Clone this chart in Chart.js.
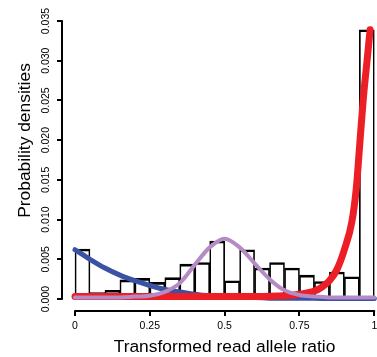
<!DOCTYPE html>
<html>
<head>
<meta charset="utf-8">
<script src="https://cdn.jsdelivr.net/npm/chart.js@4.4.1/dist/chart.umd.min.js"></script>
<style>
  html, body { margin: 0; padding: 0; background: #fff; overflow: hidden; }
  body { width: 377px; height: 357px; position: relative; }
  #c { position: absolute; left: 0; top: -30px; }
</style>
</head>
<body>
<canvas id="c" width="387" height="387"></canvas>
<script>
// histogram of transformed read allele ratio (bins of 0.05)
var binMids = [0.025, 0.075, 0.125, 0.175, 0.225, 0.275, 0.325, 0.375, 0.425, 0.475,
               0.525, 0.575, 0.625, 0.675, 0.725, 0.775, 0.825, 0.875, 0.925, 0.975];
var binHeights = [0.0063, 0.0008, 0.0011, 0.0024, 0.0026, 0.0021, 0.0027, 0.0044, 0.0046, 0.0073,
                  0.0023, 0.0062, 0.0039, 0.0046, 0.0039, 0.0030, 0.0022, 0.0034, 0.0028, 0.0339];

// fitted component densities
var curveX = [0, 0.05, 0.1, 0.15, 0.2, 0.25, 0.3, 0.35, 0.4, 0.45, 0.5,
              0.55, 0.6, 0.65, 0.7, 0.75, 0.8, 0.85, 0.9, 0.95, 1];
var blueY = [0.0062, 0.0050, 0.0039, 0.0030, 0.0023, 0.0017, 0.0012, 0.0009, 0.0006, 0.0004, 0.0003,
             0.0002, 0.0002, 0.0001, 0.0001, 0.0001, 0.0001, 0.00005, 0.00005, 0.00005, 0.00005];
var purpleY = [0.0002, 0.0002, 0.0002, 0.0002, 0.0003, 0.0004, 0.0009, 0.0020, 0.0043, 0.0065, 0.0076,
               0.0065, 0.0045, 0.0025, 0.0011, 0.0005, 0.0003, 0.0002, 0.0002, 0.0002, 0.0002];
var redX = [0, 0.1, 0.2, 0.3, 0.4, 0.5, 0.6, 0.7, 0.75, 0.8, 0.825, 0.85, 0.875, 0.9,
            0.925, 0.94, 0.95, 0.963, 0.975, 0.986];
var redY = [0.0003, 0.0003, 0.0003, 0.0003, 0.0003, 0.0003, 0.0003, 0.0004, 0.0006, 0.0010, 0.0015,
            0.0023, 0.0037, 0.0062, 0.0097, 0.0140, 0.0188, 0.0251, 0.0297, 0.0339];

var xTicks = [0, 0.25, 0.5, 0.75, 1];
var xTickLabels = ['0', '0.25', '0.5', '0.75', '1'];
var yTicks = [0, 0.005, 0.01, 0.015, 0.02, 0.025, 0.03, 0.035];
var yTickLabels = ['0.000', '0.005', '0.010', '0.015', '0.020', '0.025', '0.030', '0.035'];

var FONT = "'Liberation Sans', Arial, Helvetica, sans-serif";

function points(xs, ys) {
  return xs.map(function (x, i) { return { x: x, y: ys[i] }; });
}

function fixedTicks(values) {
  return function (scale) {
    scale.ticks = values.map(function (v) { return { value: v }; });
  };
}

function curve(xs, ys, color, width, order) {
  return {
    type: 'line',
    data: points(xs, ys),
    borderColor: color,
    borderWidth: width,
    borderCapStyle: 'round',
    borderJoinStyle: 'round',
    pointRadius: 0,
    pointHoverRadius: 0,
    fill: false,
    tension: 0.4,
    cubicInterpolationMode: 'monotone',
    clip: false,
    order: order
  };
}

// R style detached axis lines: from first to last tick only
var axisLines = {
  id: 'axisLines',
  afterDraw: function (chart) {
    var ctx = chart.ctx, xs = chart.scales.x, ys = chart.scales.y;
    var area = chart.chartArea;
    ctx.save();
    ctx.strokeStyle = '#000';
    ctx.lineWidth = 2;
    ctx.lineCap = 'round';
    ctx.beginPath();
    ctx.moveTo(xs.getPixelForValue(xTicks[0]), area.bottom);
    ctx.lineTo(xs.getPixelForValue(xTicks[xTicks.length - 1]), area.bottom);
    ctx.moveTo(area.left, ys.getPixelForValue(yTicks[0]));
    ctx.lineTo(area.left, ys.getPixelForValue(yTicks[yTicks.length - 1]));
    ctx.stroke();
    ctx.restore();
  }
};

var tickGrid = { drawOnChartArea: false, drawTicks: true, tickLength: 5, color: '#000', lineWidth: 2, offset: false };

new Chart(document.getElementById('c'), {
  type: 'bar',
  data: {
    datasets: [
      curve(curveX, purpleY, '#b48bc5', 4, 0),
      curve(redX, redY, '#ed1f26', 7, 1),
      curve(curveX, blueY, '#3b51a3', 5, 2),
      {
        type: 'bar',
        data: points(binMids, binHeights),
        backgroundColor: 'rgba(255,255,255,0)',
        borderColor: '#000',
        borderWidth: { top: 2, right: 1, bottom: 1, left: 1 },
        borderSkipped: false,
        barPercentage: 1,
        categoryPercentage: 1,
        grouped: false,
        order: 3
      }
    ]
  },
  options: {
    responsive: false,
    animation: false,
    devicePixelRatio: 1,
    layout: { padding: 0, autoPadding: false },
    plugins: { legend: { display: false }, tooltip: { enabled: false } },
    scales: {
      x: {
        type: 'linear',
        offset: false,
        min: -0.043435,
        max: 1.042432,
        afterBuildTicks: fixedTicks(xTicks),
        afterFit: function (s) { s.height = 46; s.paddingLeft = 0; s.paddingRight = 0; },
        grid: tickGrid,
        border: { display: false },
        ticks: {
          autoSkip: false, maxRotation: 0, padding: 3.5, color: '#000',
          font: { family: FONT, size: 10.5 },
          callback: function (v, i) { return xTickLabels[i]; }
        },
        title: {
          display: true, text: 'Transformed read allele ratio', color: '#000',
          font: { family: FONT, size: 17.4, lineHeight: 1 },
          padding: { top: 0, bottom: 1 }
        }
      },
      y: {
        type: 'linear',
        min: -0.0015108,
        max: 0.041421,
        afterBuildTicks: fixedTicks(yTicks),
        afterFit: function (s) { s.width = 62; s.paddingTop = 0; s.paddingBottom = 0; },
        grid: tickGrid,
        border: { display: false },
        ticks: {
          autoSkip: false, minRotation: 90, maxRotation: 90, crossAlign: 'center',
          padding: -2, color: '#000',
          font: { family: FONT, size: 10.5 },
          callback: function (v, i) { return yTickLabels[i]; }
        },
        title: {
          display: true, text: 'Probability densities', color: '#000',
          font: { family: FONT, size: 17.4, lineHeight: 1 },
          padding: { top: 16.3, bottom: 0 }
        }
      }
    }
  },
  plugins: [axisLines]
});
</script>
</body>
</html>
